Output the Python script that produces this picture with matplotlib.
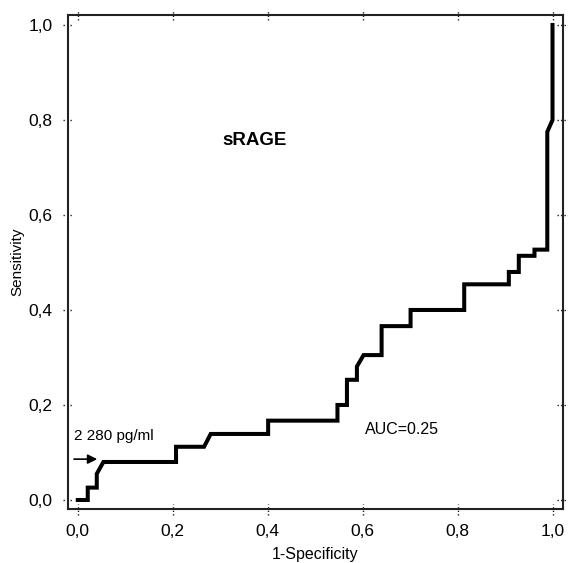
import matplotlib
matplotlib.use("Agg")
import matplotlib.pyplot as plt
from matplotlib.transforms import blended_transform_factory

plt.rcParams['font.family'] = ['Liberation Sans', 'DejaVu Sans']

# ROC curve points (1-specificity, sensitivity)
fpr = [0.0, 0.021, 0.021, 0.040, 0.040, 0.054, 0.207, 0.207, 0.266, 0.280,
       0.401, 0.401, 0.547, 0.547, 0.567, 0.567, 0.588, 0.588, 0.602, 0.640,
       0.640, 0.701, 0.701, 0.814, 0.814, 0.908, 0.908, 0.929, 0.929, 0.962,
       0.962, 0.989, 0.989, 1.0, 1.0]
tpr = [0.0, 0.0, 0.026, 0.026, 0.055, 0.080, 0.080, 0.112, 0.112, 0.139,
       0.139, 0.167, 0.167, 0.200, 0.200, 0.253, 0.253, 0.281, 0.305, 0.305,
       0.366, 0.366, 0.400, 0.400, 0.454, 0.454, 0.480, 0.480, 0.514, 0.514,
       0.527, 0.527, 0.775, 0.800, 1.0]

xticks = [0.0, 0.2, 0.4, 0.6, 0.8, 1.0]
yticks = [0.0, 0.2, 0.4, 0.6, 0.8, 1.0]
tick_labels = ['0,0', '0,2', '0,4', '0,6', '0,8', '1,0']

fig = plt.figure(figsize=(5.68, 5.63), dpi=100)
ax = fig.add_axes([0.1197, 0.0954, 0.871, 0.878])

ax.plot(fpr, tpr, color='black', linewidth=2.9, solid_joinstyle='miter', zorder=3)

ax.set_xlim(-0.0206, 1.0215)
ax.set_ylim(-0.0196, 1.021)

for s in ax.spines.values():
    s.set_linewidth(1.5)
    s.set_color('#222222')

ax.set_xticks(xticks)
ax.set_xticklabels(tick_labels)
ax.set_yticks(yticks)
ax.set_yticklabels(tick_labels)
ax.tick_params(axis='x', length=0, labelsize=12.5, pad=10.5)
ax.tick_params(axis='y', length=0, labelsize=12.5, pad=11)

# dotted ticks crossing all four spines
tx = blended_transform_factory(ax.transData, ax.transAxes)
ty = blended_transform_factory(ax.transAxes, ax.transData)
d = 0.011
for xv in xticks:
    for base in (0.0, 1.0):
        ax.plot([xv, xv], [base - d, base + d], transform=tx, color='#222222',
                linewidth=1.0, linestyle=(0, (1, 1.5)), clip_on=False)
for yv in yticks:
    for base in (0.0, 1.0):
        ax.plot([base - d, base + d], [yv, yv], transform=ty, color='#222222',
                linewidth=1.0, linestyle=(0, (1, 1.5)), clip_on=False)

ax.set_xlabel('1-Specificity', fontsize=11.5)
ax.set_ylabel('Sensitivity', fontsize=11)
ax.xaxis.set_label_coords(0.5, -0.077)
ax.yaxis.set_label_coords(-0.089, 0.5)

ax.text(0.3726, 0.747, 'sRAGE', fontsize=13.5, fontweight='bold', ha='center', va='baseline')
ax.text(0.683, 0.139, 'AUC=0.25', fontsize=11.5, ha='center', va='baseline')
ax.text(-0.0074, 0.1263, '2 280 pg/ml', fontsize=11, ha='left', va='baseline')
ax.annotate('', xy=(0.041, 0.086), xytext=(-0.008, 0.086),
            arrowprops=dict(arrowstyle='-|>', color='black', lw=1.2,
                            mutation_scale=14, shrinkA=0, shrinkB=0))

fig.savefig('out.png', dpi=100)
